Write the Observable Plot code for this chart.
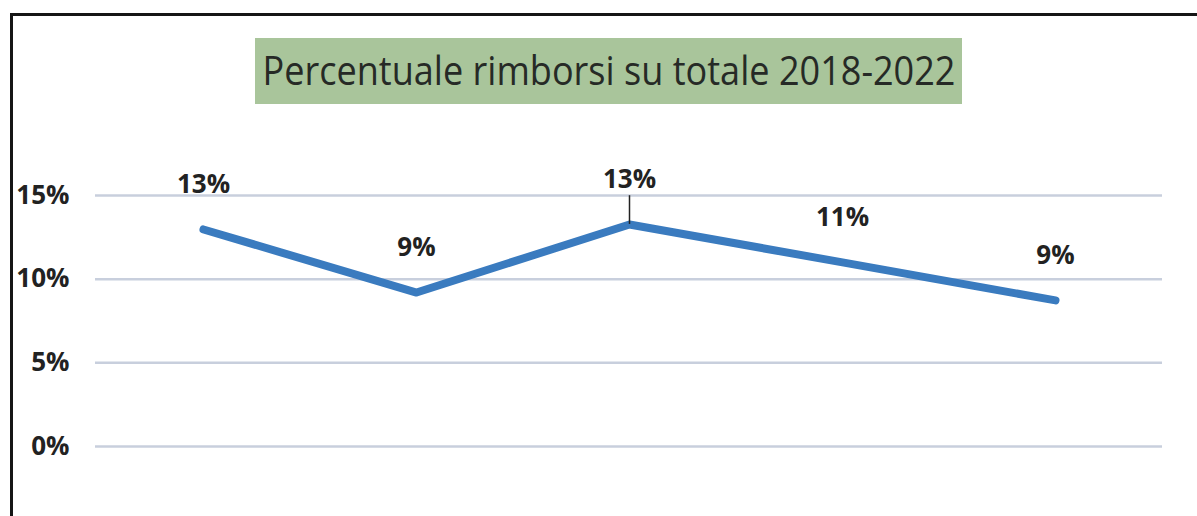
<!DOCTYPE html>
<html>
<head>
<meta charset="utf-8">
<script src="https://cdn.jsdelivr.net/npm/d3@7"></script>
<script src="https://cdn.jsdelivr.net/npm/@observablehq/plot@0.6"></script>
<style>
  html, body { margin: 0; padding: 0; background: #fff; }
  #wrap { position: relative; width: 1197px; height: 516px; overflow: hidden; background: #fff; }
  #frame { position: absolute; left: 10px; top: 13px; width: 1300px; height: 600px;
           border-top: 3px solid #151515; border-left: 3px solid #151515; }
  #chart { position: absolute; left: 0; top: 0; }
  #title { position: absolute; left: 255px; top: 38px; width: 707px; height: 66px;
           background: #a9c59b; color: #262a26; font-family: "Open Sans", sans-serif;
           font-size: 40px; line-height: 64px; white-space: nowrap; }
  #title span { position: absolute; left: 50%; top: 0; transform-origin: center; }
</style>
</head>
<body>
<div id="wrap">
  <div id="frame"></div>
  <div id="chart"></div>
  <div id="title"><span id="tt">Percentuale rimborsi su totale 2018-2022</span></div>
</div>
<script>
const years = ["2018", "2019", "2020", "2021", "2022"];
const values = [12.97, 9.2, 13.27, 11.0, 8.73];
const valueLabels = ["13%", "9%", "13%", "11%", "9%"];
const yTicks = [0, 5, 10, 15];
const leaderYears = ["2020"];

const data = years.map((year, i) => ({year, value: values[i], label: valueLabels[i]}));

const chart = Plot.plot({
  width: 1197,
  height: 516,
  marginLeft: 95,
  marginRight: 35,
  marginTop: 195,
  marginBottom: 70,
  style: {background: "transparent", fontFamily: "Open Sans, sans-serif", color: "#222"},
  x: {type: "point", domain: years, padding: 0.5, axis: null},
  y: {domain: [0, 15], axis: null},
  marks: [
    Plot.ruleY(yTicks, {stroke: "#c8cfdd", strokeWidth: 2.5}),
    Plot.axisY(yTicks, {tickSize: 0, tickPadding: 26, tickFormat: d => d + "%",
      fontSize: 26, fontWeight: 700, fill: "#222", label: null}),
    Plot.lineY(data, {x: "year", y: "value", stroke: "#3a7bbf", strokeWidth: 8,
      strokeLinecap: "round", strokeLinejoin: "round"}),
    Plot.ruleX(data.filter(d => leaderYears.includes(d.year)), {x: "year", y1: "value",
      y2: d => d.value + 1.3, insetBottom: 7, stroke: "#222", strokeWidth: 1.5}),
    Plot.text(data, {x: "year", y: "value", text: "label", dy: -45, fontSize: 26,
      fontWeight: 700, fill: "#222"})
  ]
});
document.getElementById("chart").appendChild(chart);

// fit title text width to the reference (~693px) and center it in the box
const tt = document.getElementById("tt");
const w = tt.getBoundingClientRect().width;
const k = w > 0 ? 693 / w : 1;
tt.style.transform = `translateX(-50%) scaleX(${k})`;
</script>
</body>
</html>
